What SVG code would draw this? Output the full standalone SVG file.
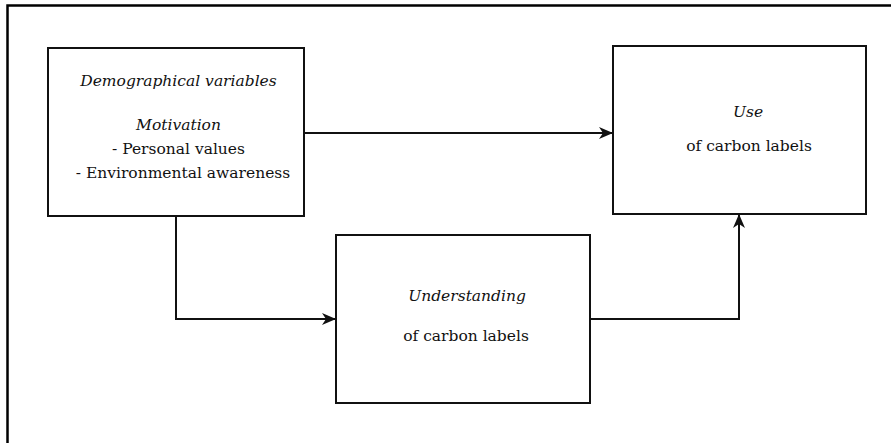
<svg xmlns="http://www.w3.org/2000/svg" width="891" height="443" viewBox="0 0 891 443">
<style>
.box{fill:#fff;stroke:#111;stroke-width:2}
.t{font-family:"DejaVu Serif","Liberation Serif",serif;font-size:15.5px;fill:#111;text-anchor:middle}
.i{font-style:italic}
.c{fill:none;stroke:#111;stroke-width:2}
.frame{fill:none;stroke:#000;stroke-width:2.5}
</style>
<defs>
<marker id="ah" viewBox="0 0 14 12" refX="13" refY="6" markerWidth="14" markerHeight="12" markerUnits="userSpaceOnUse" orient="auto">
<path d="M0,0 L14,6 L0,12 L4,6 Z" fill="#111"/>
</marker>
</defs>
<rect width="891" height="443" fill="#fff"/>
<path class="frame" d="M7.5,443 L7.5,5.5 L891,5.5"/>
<g id="connectors">
<path class="c" d="M304,133 L612,133" marker-end="url(#ah)"/>
<path class="c" d="M176,216 L176,319 L335,319" marker-end="url(#ah)"/>
<path class="c" d="M590,319 L739,319 L739,215" marker-end="url(#ah)"/>
</g>
<g id="node-motivation">
<rect class="box" x="48" y="48" width="256" height="168"/>
<text class="t i" x="178.5" y="86">Demographical variables</text>
<text class="t i" x="178.5" y="130">Motivation</text>
<text class="t" x="178.5" y="154">- Personal values</text>
<text class="t" x="183" y="178">- Environmental awareness</text>
</g>
<g id="node-use">
<rect class="box" x="613" y="46" width="253" height="168"/>
<text class="t i" x="748" y="117">Use</text>
<text class="t" x="749" y="151">of carbon labels</text>
</g>
<g id="node-understanding">
<rect class="box" x="336" y="235" width="254" height="168"/>
<text class="t i" x="467" y="301">Understanding</text>
<text class="t" x="466" y="341">of carbon labels</text>
</g>
</svg>
